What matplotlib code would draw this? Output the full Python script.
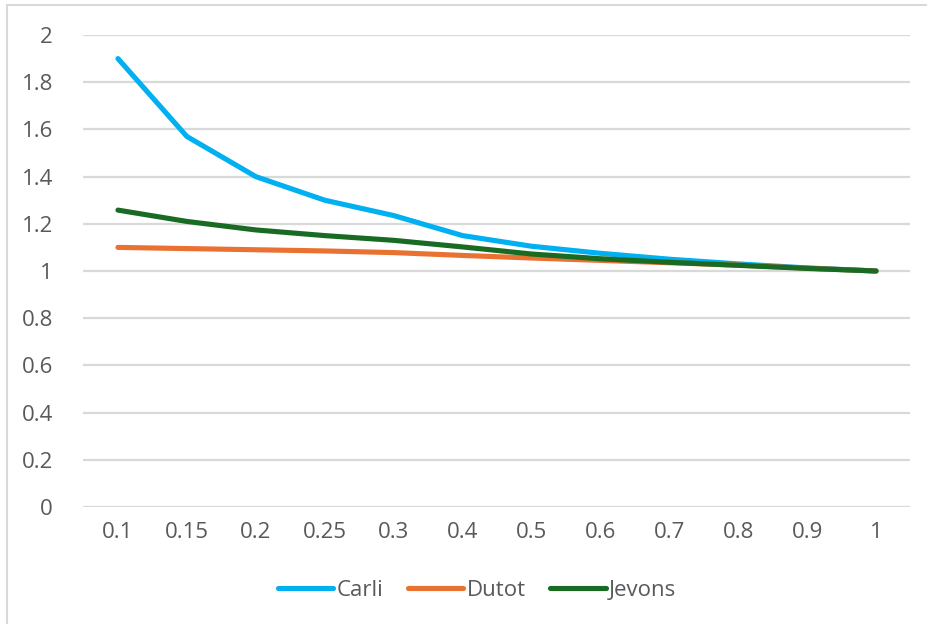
import matplotlib
matplotlib.use("Agg")
import matplotlib.pyplot as plt
from matplotlib.patches import Rectangle

# category labels on the x axis
categories = ["0.1", "0.15", "0.2", "0.25", "0.3", "0.4", "0.5", "0.6", "0.7", "0.8", "0.9", "1"]

carli = [1.90, 1.57, 1.40, 1.30, 1.235, 1.15, 1.105, 1.075, 1.05, 1.03, 1.013, 1.0]
dutot = [1.10, 1.095, 1.09, 1.085, 1.078, 1.066, 1.055, 1.045, 1.035, 1.025, 1.012, 1.0]
jevons = [1.258, 1.21, 1.174, 1.15, 1.13, 1.102, 1.072, 1.052, 1.037, 1.024, 1.011, 1.0]

y_ticks = [0, 0.2, 0.4, 0.6, 0.8, 1, 1.2, 1.4, 1.6, 1.8, 2]
y_labels = ["0", "0.2", "0.4", "0.6", "0.8", "1", "1.2", "1.4", "1.6", "1.8", "2"]

plt.rcParams['font.family'] = ['Open Sans', 'DejaVu Sans']
text_color = '#595959'
grid_color = '#D9D9D9'

fig = plt.figure(figsize=(9.28, 6.24), dpi=100)
ax = fig.add_axes([83.5 / 928, 1 - 507 / 624, (910.5 - 83.5) / 928, (507 - 35) / 624])

x = list(range(len(categories)))
ax.plot(x, carli, color='#00B0F0', lw=3.7, solid_capstyle='round', label='Carli')
ax.plot(x, dutot, color='#E97132', lw=3.7, solid_capstyle='round', label='Dutot')
ax.plot(x, jevons, color='#196B24', lw=3.7, solid_capstyle='round', label='Jevons')

ax.set_xlim(-0.5, len(categories) - 0.5)
ax.set_ylim(0, 2)
ax.set_xticks(x)
ax.set_xticklabels(categories)
ax.set_yticks(y_ticks)
ax.set_yticklabels(y_labels)
ax.tick_params(axis='both', length=0, labelsize=16, colors=text_color)
ax.tick_params(axis='x', pad=11)
ax.tick_params(axis='y', pad=22)
ax.grid(axis='y', color=grid_color, lw=1.6)
ax.set_axisbelow(True)
for s in ax.spines.values():
    s.set_visible(False)

fig.legend(loc='center', bbox_to_anchor=(477 / 928, 1 - 590 / 624), ncol=3, frameon=False,
           fontsize=16, labelcolor=text_color, handlelength=2.5, handletextpad=0.15,
           columnspacing=1.1)

# outer chart border (only left and top edges show in the crop)
fig.add_artist(Rectangle((7 / 928, -0.1), 1.2, 1.1 - 5 / 624, transform=fig.transFigure,
                         fill=False, edgecolor=grid_color, lw=1.5))

fig.savefig('out.png', dpi=100)
